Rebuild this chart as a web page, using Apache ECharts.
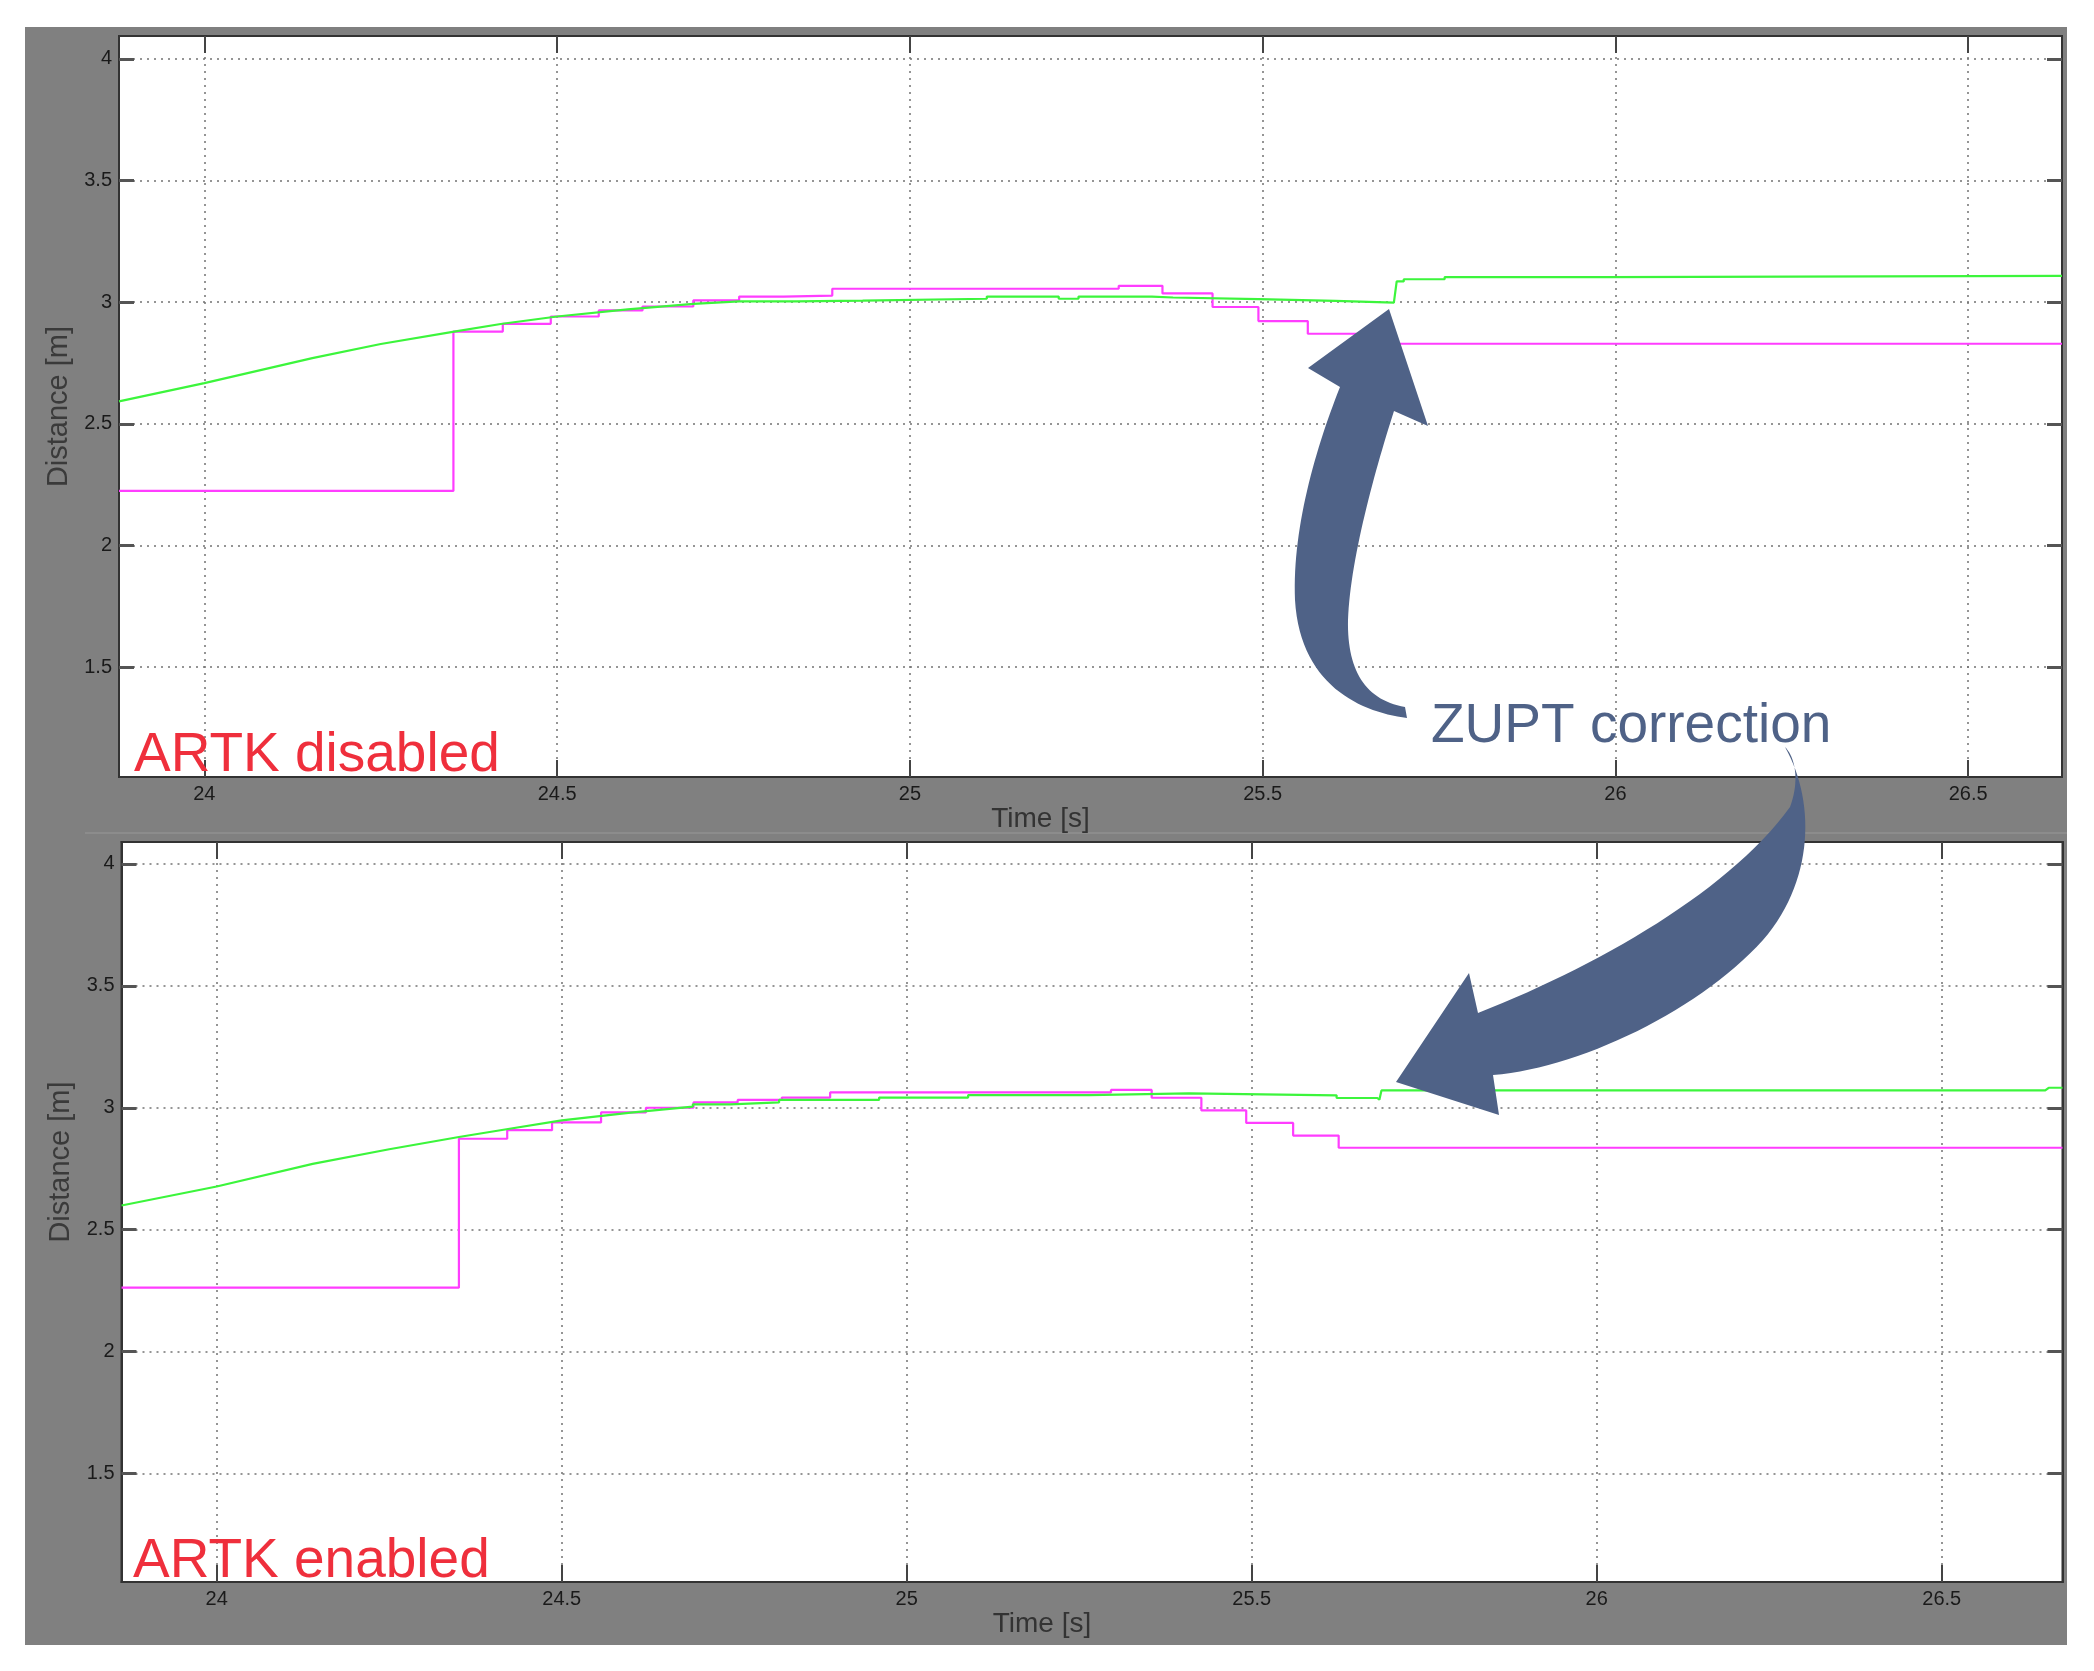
<!DOCTYPE html>
<html><head><meta charset="utf-8">
<script src="https://cdn.jsdelivr.net/npm/echarts@6/dist/echarts.min.js"></script>
<style>html,body{margin:0;padding:0;background:#fff}#c{width:2094px;height:1671px}</style>
</head><body><div id="c"></div>
<script>
// ---- tick values / labels ----
const xTicks = [24, 24.5, 25, 25.5, 26, 26.5];
const xTickLabels = ['24', '24.5', '25', '25.5', '26', '26.5'];
const yTicks = [1.5, 2, 2.5, 3, 3.5, 4];
const yTickLabels = ['1.5', '2', '2.5', '3', '3.5', '4'];

// ---- axis ranges ----
const topXRange = [23.879, 26.633];
const topYRange = [1.048, 4.094];
const botXRange = [23.862, 26.675];
const botYRange = [1.055, 4.090];

// ---- data: ARTK disabled (top) ----
// magenta: value held until next time (step)
const topMagenta = [
  [23.879, 2.224], [24.353, 2.879], [24.423, 2.911], [24.491, 2.941], [24.559, 2.966],
  [24.621, 2.982], [24.693, 3.007], [24.758, 3.023], [24.821, 3.027], [24.890, 3.055],
  [25.296, 3.067], [25.358, 3.036], [25.429, 2.980], [25.494, 2.922], [25.564, 2.870],
  [25.660, 2.829], [26.633, 2.829]
];
// green: traced polyline
const topGreen = [
  [23.879, 2.592], [24.000, 2.667], [24.153, 2.770], [24.250, 2.828], [24.354, 2.879],
  [24.420, 2.910], [24.500, 2.941], [24.600, 2.970], [24.693, 2.993], [24.758, 3.003],
  [24.840, 3.003], [24.840, 3.006], [24.933, 3.006], [24.933, 3.014], [25.109, 3.014],
  [25.109, 3.023], [25.211, 3.023], [25.211, 3.014], [25.239, 3.014], [25.239, 3.023],
  [25.343, 3.023], [25.343, 3.019], [25.373, 3.019], [25.373, 3.012], [25.494, 3.012],
  [25.494, 3.005], [25.603, 3.005], [25.603, 2.998], [25.686, 2.998], [25.690, 3.085],
  [25.700, 3.085], [25.700, 3.094], [25.758, 3.094], [25.758, 3.103], [25.988, 3.103],
  [25.988, 3.108], [26.633, 3.108]
];

// ---- data: ARTK enabled (bottom) ----
const botMagenta = [
  [23.862, 2.262], [24.351, 2.873], [24.421, 2.908], [24.486, 2.940], [24.557, 2.981],
  [24.622, 3.000], [24.691, 3.022], [24.755, 3.032], [24.819, 3.042], [24.889, 3.063],
  [25.296, 3.073], [25.355, 3.041], [25.427, 2.989], [25.492, 2.938], [25.560, 2.886],
  [25.626, 2.836], [26.675, 2.836]
];
const botGreen = [
  [23.862, 2.599], [24.000, 2.677], [24.139, 2.770], [24.250, 2.830], [24.351, 2.880],
  [24.420, 2.912], [24.500, 2.948], [24.600, 2.980], [24.690, 3.005], [24.690, 3.014],
  [24.744, 3.014], [24.744, 3.022], [24.815, 3.022], [24.815, 3.032], [24.960, 3.032],
  [24.960, 3.042], [25.089, 3.042], [25.089, 3.052], [25.264, 3.052], [25.264, 3.059],
  [25.409, 3.059], [25.409, 3.051], [25.623, 3.051], [25.623, 3.040], [25.682, 3.040],
  [25.685, 3.033], [25.688, 3.071], [26.650, 3.071], [26.655, 3.082], [26.675, 3.082]
];

const MAGENTA = '#ff3dff';
const GREEN = '#3cf53c';
const ARROW = '#4f6287';
const RED = '#ef2f3c';
const TICKFONT = "'Liberation Sans Narrow', 'Liberation Sans', Arial, sans-serif";
const FONT = "'Liberation Sans', Arial, sans-serif";

function lookup(ticks, labels) {
  return v => { const i = ticks.indexOf(v); return i >= 0 ? labels[i] : ''; };
}

function xAx(grid, range, pos, main, namePad) {
  return {
    type: 'value', gridIndex: grid, position: pos, min: range[0], max: range[1],
    axisLine: { show: true, onZero: false, lineStyle: { color: '#333', width: 2 } },
    axisTick: { show: true, inside: true, length: 17, customValues: xTicks, lineStyle: { color: '#444', width: 2 } },
    axisLabel: { show: main, customValues: xTicks, formatter: lookup(xTicks, xTickLabels), margin: 7,
      color: '#1a1a1a', fontSize: 20, fontFamily: TICKFONT },
    splitLine: { show: main, lineStyle: { color: '#737373', type: [2, 5], width: 1.5 } },
    name: main ? 'Time [s]' : '', nameLocation: 'middle', nameGap: 22,
    nameTextStyle: { fontSize: 28, color: '#333', fontFamily: FONT, padding: namePad }
  };
}
function yAx(grid, range, pos, main, namePad) {
  return {
    type: 'value', gridIndex: grid, position: pos, min: range[0], max: range[1],
    axisLine: { show: true, onZero: false, lineStyle: { color: '#333', width: 2 } },
    axisTick: { show: true, inside: true, length: 15, customValues: yTicks, lineStyle: { color: '#555', width: 3 } },
    axisLabel: { show: main, customValues: yTicks, formatter: lookup(yTicks, yTickLabels), margin: 7,
      color: '#1a1a1a', fontSize: 20, fontFamily: TICKFONT },
    splitLine: { show: main, lineStyle: { color: '#737373', type: [2, 5], width: 1.5 } },
    name: main ? 'Distance [m]' : '', nameLocation: 'middle', nameGap: 46,
    nameTextStyle: { fontSize: 29, color: '#3a3a3a', fontFamily: FONT, padding: namePad }
  };
}

// cubic bezier sampling for annotation arrows
function cubic(p0, p1, p2, p3, n) {
  const out = [];
  for (let i = 1; i <= n; i++) {
    const t = i / n, u = 1 - t;
    out.push([
      u*u*u*p0[0] + 3*u*u*t*p1[0] + 3*u*t*t*p2[0] + t*t*t*p3[0],
      u*u*u*p0[1] + 3*u*u*t*p1[1] + 3*u*t*t*p2[1] + t*t*t*p3[1]
    ]);
  }
  return out;
}
const upperArrow = [[1389, 309], [1428, 426], [1394, 411]]
  .concat(cubic([1394, 411], [1375, 470], [1350, 560], [1348, 620], 30))
  .concat(cubic([1348, 620], [1347, 670], [1365, 700], [1405, 707], 30))
  .concat([[1407, 718]])
  .concat(cubic([1407, 718], [1360, 712], [1300, 685], [1295, 600], 30))
  .concat(cubic([1295, 600], [1292, 530], [1315, 450], [1340, 387], 30))
  .concat([[1308, 368]]);
const lowerArrow = [[1396, 1082], [1469, 973], [1478, 1013]]
  .concat(cubic([1478, 1013], [1600, 965], [1730, 890], [1790, 807], 30))
  .concat(cubic([1790, 807], [1800, 780], [1795, 757], [1785, 747], 20))
  .concat(cubic([1785, 747], [1815, 800], [1815, 880], [1763, 940], 30))
  .concat(cubic([1763, 940], [1700, 1010], [1580, 1068], [1493, 1075], 30))
  .concat([[1499, 1115]]);

const chart = echarts.init(document.getElementById('c'), null, { renderer: 'canvas' });
chart.setOption({
  backgroundColor: '#ffffff',
  animation: false,
  grid: [
    { left: 119, top: 36, width: 1943, height: 741, show: true, backgroundColor: '#ffffff',
      borderColor: '#333', borderWidth: 2, outerBoundsMode: 'none', containLabel: false },
    { left: 121.5, top: 842, width: 1941, height: 740, show: true, backgroundColor: '#ffffff',
      borderColor: '#333', borderWidth: 2, outerBoundsMode: 'none', containLabel: false }
  ],
  xAxis: [
    xAx(0, topXRange, 'bottom', true, [0, 100, 0, 0]),
    xAx(0, topXRange, 'top', false),
    xAx(1, botXRange, 'bottom', true, [0, 100, 0, 0]),
    xAx(1, botXRange, 'top', false)
  ],
  yAxis: [
    yAx(0, topYRange, 'left', true, [0, 0, 0, 0]),
    yAx(0, topYRange, 'right', false),
    yAx(1, botYRange, 'left', true, [0, 0, 0, 100]),
    yAx(1, botYRange, 'right', false)
  ],
  series: [
    { type: 'line', xAxisIndex: 0, yAxisIndex: 0, data: topMagenta, step: 'end', showSymbol: false,
      lineStyle: { color: MAGENTA, width: 2.2 }, z: 3 },
    { type: 'line', xAxisIndex: 0, yAxisIndex: 0, data: topGreen, showSymbol: false,
      lineStyle: { color: GREEN, width: 2.2 }, z: 4 },
    { type: 'line', xAxisIndex: 2, yAxisIndex: 2, data: botMagenta, step: 'end', showSymbol: false,
      lineStyle: { color: MAGENTA, width: 2.2 }, z: 3 },
    { type: 'line', xAxisIndex: 2, yAxisIndex: 2, data: botGreen, showSymbol: false,
      lineStyle: { color: GREEN, width: 2.2 }, z: 4 }
  ],
  graphic: [
    { type: 'rect', z: -100, silent: true, shape: { x: 25, y: 27, width: 2042, height: 1618 },
      style: { fill: '#808080' } },
    { type: 'line', z: -99, silent: true, shape: { x1: 85, y1: 833, x2: 2067, y2: 833 },
      style: { stroke: '#8c8c8c', lineWidth: 2 } },
    { type: 'text', z: 100, silent: true, x: 134, y: 756,
      style: { text: 'ARTK disabled', fill: RED, font: '55px ' + FONT, verticalAlign: 'middle', align: 'left' } },
    { type: 'text', z: 100, silent: true, x: 133, y: 1562,
      style: { text: 'ARTK enabled', fill: RED, font: '55px ' + FONT, verticalAlign: 'middle', align: 'left' } },
    { type: 'polygon', z: 100, silent: true, shape: { points: upperArrow }, style: { fill: ARROW } },
    { type: 'polygon', z: 100, silent: true, shape: { points: lowerArrow }, style: { fill: ARROW } },
    { type: 'text', z: 101, silent: true, x: 1431, y: 727,
      style: { text: 'ZUPT correction', fill: ARROW, font: '55px ' + FONT, verticalAlign: 'middle', align: 'left' } }
  ]
});
</script></body></html>
